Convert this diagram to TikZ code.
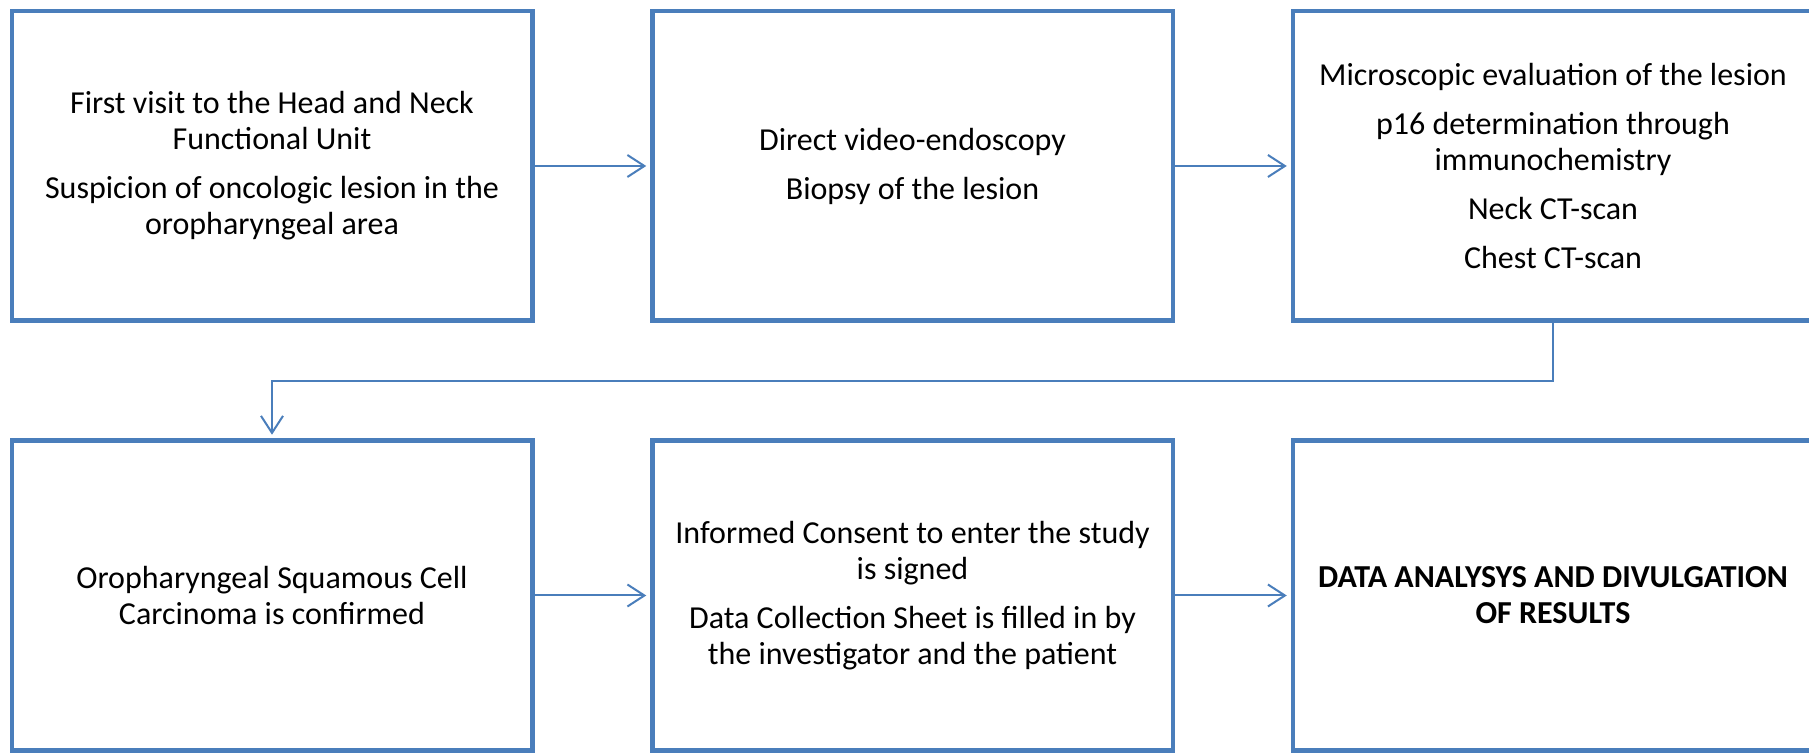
\documentclass[tikz,border=0pt]{standalone}
\usepackage{fontspec}
\setmainfont{Carlito}
\usetikzlibrary{arrows.meta,positioning}

\definecolor{frameblue}{RGB}{74,126,187}
\newcommand{\pgap}{\\[13pt]}

\begin{document}
\begin{tikzpicture}[x=1pt, y=1pt, >={Straight Barb[length=17pt,width=22pt]},
    node distance=117.5pt and 120pt,
    stage/.style={draw=frameblue, line width=4.5pt, outer sep=0pt,
      minimum width=520.5pt, minimum height=309.5pt, align=center,
      font=\fontsize{32}{36}\selectfont},
    flow/.style={->, draw=frameblue, line width=2pt, shorten >=6pt}]
    \useasboundingbox (0,0) rectangle (1809,752);

    \node[stage] (first) at (272,586) {First visit to the Head and Neck\\Functional Unit\pgap
      Suspicion of oncologic lesion in the\\oropharyngeal area};
    \node[stage, right=of first] (endoscopy) {Direct video-endoscopy\pgap Biopsy of the lesion};
    \node[stage, right=of endoscopy] (evaluation) {Microscopic evaluation of the lesion\pgap
      p16 determination through\\immunochemistry\pgap Neck CT-scan\pgap Chest CT-scan};

    \node[stage, below=120pt of first] (confirmed) {Oropharyngeal Squamous Cell\\Carcinoma is confirmed};
    \node[stage, right=of confirmed] (consent) {Informed Consent to enter the study\\is signed\pgap
      Data Collection Sheet is filled in by\\the investigator and the patient};
    \node[stage, right=of consent, font=\fontsize{32}{36}\selectfont\bfseries] (results)
      {DATA ANALYSYS AND DIVULGATION\\OF RESULTS};

    \draw[flow] (first) -- (endoscopy);
    \draw[flow] (endoscopy) -- (evaluation);
    \draw[flow] (evaluation.south) -- ++(0,-60) -| (confirmed.north);
    \draw[flow] (confirmed) -- (consent);
    \draw[flow] (consent) -- (results);
  \end{tikzpicture}
\end{document}
